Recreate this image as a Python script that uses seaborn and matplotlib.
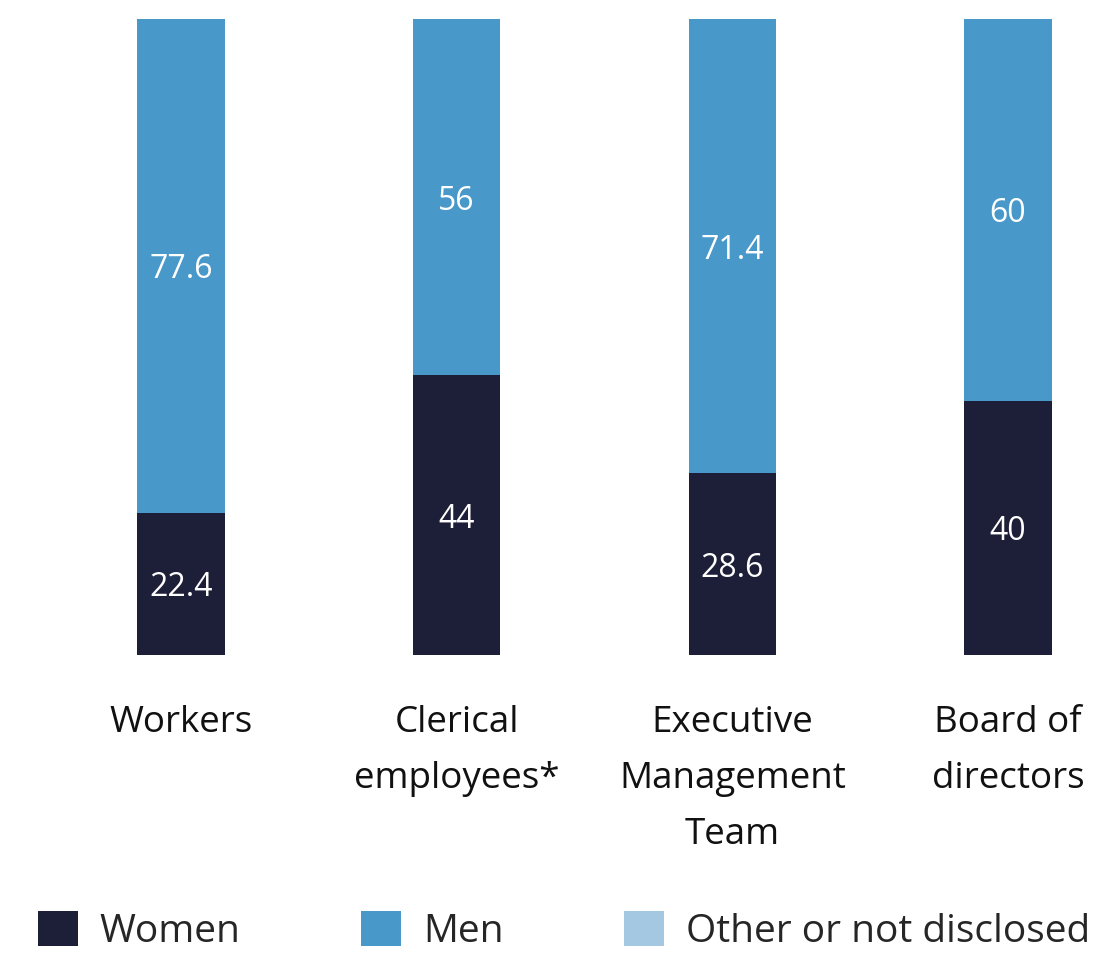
import matplotlib
matplotlib.use("Agg")
import matplotlib.pyplot as plt
from matplotlib.patches import Patch
import seaborn as sns
import pandas as pd

# Gender split by employee group (%)
categories = ["Workers", "Clerical\nemployees*", "Executive\nManagement\nTeam", "Board of\ndirectors"]
women = [22.4, 44, 28.6, 40]
men = [77.6, 56, 71.4, 60]
other = [0, 0, 0, 0]

series_names = ["Women", "Men", "Other or not disclosed"]
colors = {"Women": "#1d1e38", "Men": "#4898c9", "Other or not disclosed": "#a4c8e2"}

sns.set_theme(style="white")
plt.rcParams["font.family"] = ["Open Sans", "DejaVu Sans"]

df = pd.DataFrame({"category": categories, "Women": women, "Men": men, "Other": other})
df["women_men"] = df["Women"] + df["Men"]
df["total"] = df["women_men"] + df["Other"]

W, H = 1101, 955
fig = plt.figure(figsize=(W / 100, H / 100), dpi=100)
ax = fig.add_axes([0, 300 / H, 1, (655 - 19) / H])

bar_w = 0.316
sns.barplot(data=df, x="category", y="total", color=colors["Other or not disclosed"],
            width=bar_w, saturation=1, ax=ax, linewidth=0)
sns.barplot(data=df, x="category", y="women_men", color=colors["Men"],
            width=bar_w, saturation=1, ax=ax, linewidth=0)
sns.barplot(data=df, x="category", y="Women", color=colors["Women"],
            width=bar_w, saturation=1, ax=ax, linewidth=0)

unit = 275.67
xmin = -181 / unit
ax.set_xlim(xmin, xmin + W / unit)
ax.set_ylim(0, 100)
ax.axis("off")


def fmt(v):
    return f"{v:g}"


for i, (w, m) in enumerate(zip(women, men)):
    ax.text(i, w / 2, fmt(w), ha="center", va="center_baseline", color="white", fontsize=23)
    ax.text(i, w + m / 2, fmt(m), ha="center", va="center_baseline", color="white", fontsize=23)

# category labels below the bars
for i, cat in enumerate(categories):
    ax.text(i, -7.9, cat, ha="center", va="top", fontsize=26.5, color="#111111",
            linespacing=1.74)

handles = [Patch(facecolor=colors[n], edgecolor="none") for n in series_names]
fig.legend(handles, series_names, loc="center left", bbox_to_anchor=(0.0345, 1 - 931 / H),
           ncol=3, frameon=False, fontsize=28, handlelength=1.03, handleheight=1.0,
           handletextpad=0.56, columnspacing=3.1, borderaxespad=0, borderpad=0)

fig.savefig("out.png", dpi=100)
